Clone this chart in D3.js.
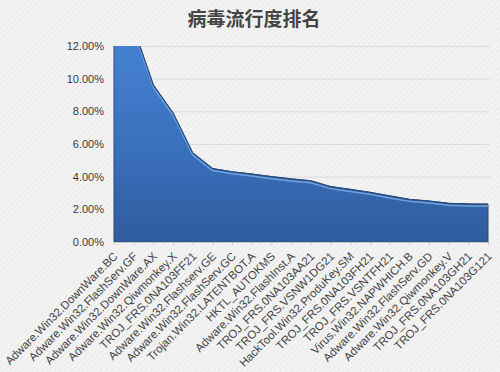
<!DOCTYPE html>
<html>
<head>
<meta charset="utf-8">
<script src="https://cdn.jsdelivr.net/npm/d3@7"></script>
<style>
  body { margin: 0; background: #f1f1f1; }
  #chart svg { display: block; }
</style>
</head>
<body>
<div id="chart"></div>
<script>
// virus names, in ranking order
const viruses = [
    "Adware.Win32.DownWare.BC",
    "Adware.Win32.FlashServ.GF",
    "Adware.Win32.DownWare.AX",
    "Adware.Win32.Qiwmonkey.X",
    "TROJ_FRS.0NA103FF21",
    "Adware.Win32.Flashserv.GE",
    "Adware.Win32.FlashServ.GC",
    "Trojan.Win32.LATENTBOT.A",
    "HKTL_AUTOKMS",
    "Adware.Win32.FlashInst.A",
    "TROJ_FRS.0NA103AA21",
    "TROJ_FRS.VSNW1DG21",
    "HackTool.Win32.ProduKey.SM",
    "TROJ_FRS.0NA103FH21",
    "TROJ_FRS.VSNTFH21",
    "Virus.Win32.NAPWHICH.B",
    "Adware.Win32.FlashServ.GD",
    "Adware.Win32.Qiwmonkey.V",
    "TROJ_FRS.0NA103GH21",
    "TROJ_FRS.0NA103G121"
];

// share of detections (fraction); first two go past the 12% axis top
const share = [0.145, 0.131, 0.096, 0.079, 0.0545, 0.045, 0.043, 0.0416, 0.040, 0.0386,
    0.0375, 0.0339, 0.0322, 0.0304, 0.0282, 0.0261, 0.0251, 0.0237, 0.0233, 0.0232];

const yTicks = [0, 0.02, 0.04, 0.06, 0.08, 0.10, 0.12];

const data = viruses.map(function (v, i) { return { name: v, value: share[i] }; });

const width = 500;
const height = 372;
const margin = { top: 46, left: 114, right: 12, bottom: 130 };

const svg = d3.select("#chart")
    .append("svg")
    .attr("width", width)
    .attr("height", height);

const defs = svg.append("defs");

// hatched background
const pat = defs.append("pattern")
    .attr("id", "hatch")
    .attr("width", 4)
    .attr("height", 4)
    .attr("patternUnits", "userSpaceOnUse")
    .attr("patternTransform", "rotate(45)");
pat.append("rect").attr("width", 4).attr("height", 4).attr("fill", "#f3f3f3");
pat.append("line")
    .attr("x1", 0).attr("y1", 0).attr("x2", 0).attr("y2", 4)
    .attr("stroke", "#e4e4e4")
    .attr("stroke-width", 1.2);

const grad = defs.append("linearGradient")
    .attr("id", "areaGrad")
    .attr("x1", 0).attr("y1", 0).attr("x2", 0).attr("y2", 1);
grad.append("stop").attr("offset", "0%").attr("stop-color", "#4a88d8");
grad.append("stop").attr("offset", "55%").attr("stop-color", "#3b72c0");
grad.append("stop").attr("offset", "100%").attr("stop-color", "#2f5c9e");

defs.append("clipPath")
    .attr("id", "plotClip")
    .append("rect")
    .attr("x", 0)
    .attr("y", margin.top)
    .attr("width", width)
    .attr("height", height - margin.top);

svg.append("rect")
    .attr("width", width)
    .attr("height", height)
    .attr("fill", "url(#hatch)");

/*
SCALES
*/
const xScale = d3.scalePoint()
    .domain(viruses)
    .range([margin.left, width - margin.right]);

const yScale = d3.scaleLinear()
    .domain([0, 0.12])
    .range([height - margin.bottom, margin.top]);

/*
GRIDLINES + Y AXIS
*/
const yAxis = svg.append("g")
    .attr("class", "axis")
    .attr("transform", `translate(${margin.left},0)`)
    .call(d3.axisLeft(yScale)
        .tickValues(yTicks)
        .tickFormat(d3.format(".2%"))
        .tickSize(-(width - margin.left - margin.right + 2))
        .tickPadding(10));

yAxis.select(".domain").remove();
yAxis.selectAll("line")
    .attr("stroke", "#dcdcdc")
    .attr("stroke-width", 1);
yAxis.selectAll("text")
    .attr("fill", "#3a3a3a")
    .style("font-family", "Liberation Sans, Arial, sans-serif")
    .style("font-size", "11px");

/*
AREA
*/
const area = d3.area()
    .x(function (d) { return xScale(d.name); })
    .y0(yScale(0))
    .y1(function (d) { return yScale(d.value); });

const line = d3.line()
    .x(function (d) { return xScale(d.name); })
    .y(function (d) { return yScale(d.value); });

const plot = svg.append("g").attr("clip-path", "url(#plotClip)");

plot.append("path")
    .datum(data)
    .attr("d", area)
    .attr("fill", "url(#areaGrad)")
    .attr("stroke", "#274b7e")
    .attr("stroke-width", 1);

// light highlight under the top edge
plot.append("path")
    .datum(data)
    .attr("d", line)
    .attr("transform", "translate(0,2)")
    .attr("fill", "none")
    .attr("stroke", "#7fb0ea")
    .attr("stroke-width", 1.5)
    .attr("stroke-opacity", 0.8);

plot.append("path")
    .datum(data)
    .attr("d", line)
    .attr("fill", "none")
    .attr("stroke", "#2a4c7c")
    .attr("stroke-width", 1.2);

/*
X AXIS
*/
const xAxis = svg.append("g")
    .attr("class", "axis")
    .attr("transform", `translate(0,${height - margin.bottom})`)
    .call(d3.axisBottom(xScale).tickSize(3));

xAxis.select(".domain")
    .attr("stroke", "#c8c8c8");
xAxis.selectAll("line")
    .attr("stroke", "#c8c8c8");
xAxis.selectAll("text")
    .style("text-anchor", "end")
    .style("font-family", "Liberation Sans, Arial, sans-serif")
    .style("font-size", "11.5px")
    .attr("fill", "#444")
    .attr("x", 0)
    .attr("y", 0)
    .attr("dx", 0)
    .attr("dy", 0)
    .attr("transform", "translate(4,15) rotate(-45)");

/*
TITLE
*/
svg.append("text")
    .attr("x", 254)
    .attr("y", 26)
    .attr("text-anchor", "middle")
    .style("font-family", "Noto Sans CJK SC, sans-serif")
    .style("font-weight", "bold")
    .style("font-size", "19px")
    .attr("fill", "#454545")
    .text("病毒流行度排名");
</script>
</body>
</html>
